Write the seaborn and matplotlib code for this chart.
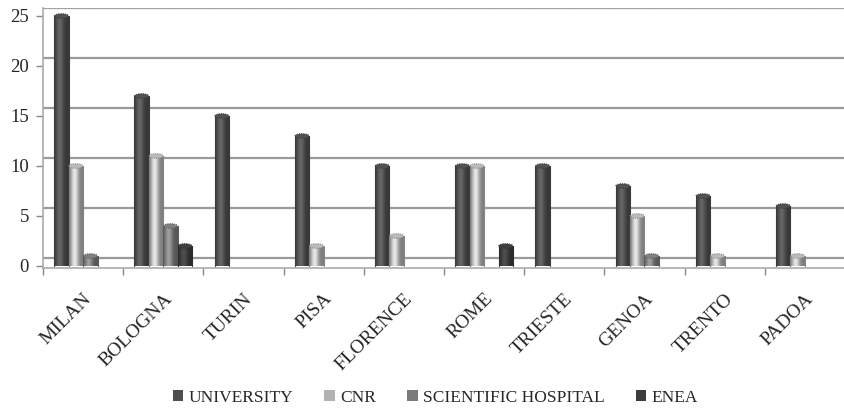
import numpy as np
import pandas as pd
import matplotlib
matplotlib.use("Agg")
import matplotlib.pyplot as plt
import matplotlib.colors as mcolors
from matplotlib.patches import Patch, Ellipse
import seaborn as sns

cities = ["MILAN", "BOLOGNA", "TURIN", "PISA", "FLORENCE",
          "ROME", "TRIESTE", "GENOA", "TRENTO", "PADOA"]
series = ["UNIVERSITY", "CNR", "SCIENTIFIC HOSPITAL", "ENEA"]
university = [25, 17, 15, 13, 10, 10, 10, 8, 7, 6]
cnr = [10, 11, 0, 2, 3, 10, 0, 5, 1, 1]
scientific_hospital = [1, 4, 0, 0, 0, 0, 0, 1, 0, 0]
enea = [0, 2, 0, 0, 0, 2, 0, 0, 0, 0]
y_ticks = [0, 5, 10, 15, 20, 25]

colors = ["#4e4e4e", "#b2b2b2", "#7b7b7b", "#3c3c3c"]

df = pd.DataFrame({
    "city": cities * 4,
    "group": sum([[s] * len(cities) for s in series], []),
    "count": university + cnr + scientific_hospital + enea,
})

sns.set_theme(style="white")
plt.rcParams["font.family"] = ["Liberation Serif", "DejaVu Serif"]

fig = plt.figure(figsize=(8.45, 4.09), dpi=100)
ax = fig.add_axes([43 / 845, 1 - 268 / 409, 1 - 43 / 845, 260 / 409])

sns.barplot(data=df, x="city", y="count", hue="group", order=cities,
            hue_order=series, palette=colors, width=0.72, legend=False,
            ax=ax, edgecolor="none", saturation=1, zorder=3)

# cylinder-like shading across each bar, with a flat rounded top cap
t = np.linspace(0, 1, 40)
shade = 0.70 + 0.60 * np.exp(-((t - 0.38) / 0.26) ** 2)
for p in ax.patches:
    h = p.get_height()
    if h <= 0:
        continue
    x0, w = p.get_x(), p.get_width()
    base = np.array(mcolors.to_rgb(p.get_facecolor()))
    img = np.clip(base[None, :] * shade[:, None], 0, 1)[None, :, :]
    ax.imshow(img, extent=[x0, x0 + w, 0, h], aspect="auto",
              interpolation="bilinear", zorder=4)
    cap = Ellipse((x0 + w / 2, h), w * 0.98, 0.45,
                  facecolor=np.clip(base * 1.05, 0, 1),
                  edgecolor=base * 0.8, lw=0.8, ls=(0, (1, 1)), zorder=5)
    ax.add_patch(cap)
    ax.plot([x0, x0], [0, h], color=base * 0.75, lw=0.8, zorder=5)
    ax.plot([x0 + w, x0 + w], [0, h], color=base * 0.75, lw=0.8, zorder=5)

ax.set_xlim(-0.5, 9.44)
ax.set_ylim(-0.2, 25.8)

# back-wall gridlines, raised slightly like a 3D floor
for v in y_ticks:
    ax.axhline(v + 0.8, color="#9a9a9a", lw=1.6, zorder=1)

for side in ["top", "right"]:
    ax.spines[side].set_visible(False)
for side in ["left", "bottom"]:
    ax.spines[side].set_color("#aaaaaa")
    ax.spines[side].set_linestyle((0, (1, 1)))
    ax.spines[side].set_linewidth(1.2)
ax.axhline(25.8, color="#aaaaaa", lw=1.2, ls=(0, (1, 1)), zorder=1)

ax.set_yticks(y_ticks)
ax.set_yticklabels([str(v) for v in y_ticks], fontsize=13.5)
ax.tick_params(axis="y", which="major", left=True, length=5, width=1,
               color="#888888", pad=5)

ax.set_xticks(range(len(cities)))
ax.set_xticks([i - 0.5 for i in range(len(cities) + 1)], minor=True)
ax.tick_params(axis="x", which="major", bottom=False, pad=10)
ax.tick_params(axis="x", which="minor", bottom=True, length=5, width=1,
               color="#888888")
ax.set_xticklabels(cities, rotation=45, ha="right", rotation_mode="anchor",
                   fontsize=14)
ax.set_xlabel("")
ax.set_ylabel("")

handles = [Patch(facecolor=c, edgecolor="none") for c in colors]
fig.legend(handles, series, loc="center", bbox_to_anchor=(0.515, 0.028),
           ncol=4, frameon=False, fontsize=12.5, handlelength=0.6,
           handleheight=0.6, handletextpad=0.3, columnspacing=1.8)

fig.savefig("out.png", dpi=100)
